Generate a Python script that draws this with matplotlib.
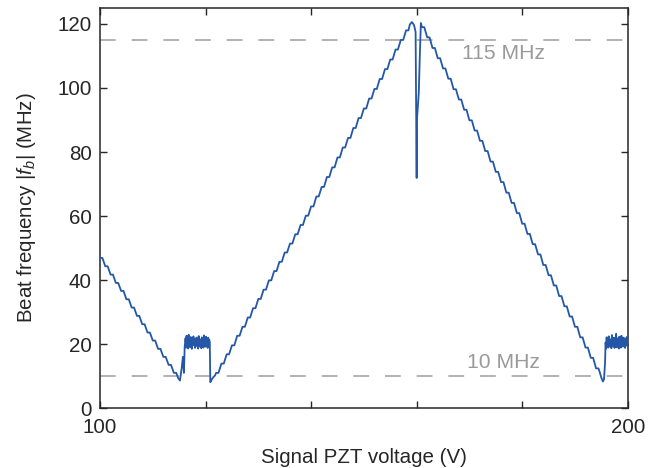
import numpy as np
import matplotlib.pyplot as plt

plt.rcParams['font.family'] = ['Liberation Sans', 'DejaVu Sans']
plt.rcParams['mathtext.fontset'] = 'custom'
plt.rcParams['mathtext.rm'] = 'Liberation Sans'
plt.rcParams['mathtext.it'] = 'Liberation Sans:italic'

# --- data (voltage in V, beat frequency in MHz) ---

# left falling ramp: step start voltages and levels
left_step_v = [100, 101, 102, 103, 104, 105, 106, 107, 108, 109, 110, 111, 112, 113, 114]
left_step_f = [46.9, 44.3, 41.7, 39.1, 36.6, 34.0, 31.4, 28.8, 26.2, 23.6, 21.1, 18.5, 16.0, 13.5, 11.0]

# first dip into the noisy plateau
dip1_v = [114.8, 115.15, 115.5, 115.7, 115.9, 116.05]
dip1_f = [9.4, 8.6, 12.8, 16.0, 11.0, 19.5]

plateau1_v = [116.1, 116.2, 116.3, 116.4, 116.5, 116.6, 116.7, 116.8, 116.9, 117.0,
              117.1, 117.2, 117.3, 117.4, 117.5, 117.6, 117.7, 117.8, 117.9, 118.0,
              118.1, 118.2, 118.3, 118.4, 118.5, 118.6, 118.7, 118.8, 118.9, 119.0,
              119.1, 119.2, 119.3, 119.4, 119.5, 119.6, 119.7, 119.8, 119.9, 120.0,
              120.1, 120.2, 120.3, 120.4, 120.5, 120.6, 120.7, 120.8]
plateau1_f = [19.5, 21.8, 18.9, 22.6, 19.8, 21.2, 18.6, 22.9, 20.1, 21.5,
              19.0, 22.2, 20.4, 18.5, 21.9, 19.6, 22.4, 20.0, 21.3, 18.8,
              21.7, 19.9, 22.0, 19.3, 21.1, 18.6, 22.5, 20.2, 21.6, 19.1,
              20.8, 18.7, 22.1, 19.7, 21.4, 18.9, 22.7, 20.3, 21.0, 19.2,
              22.3, 19.8, 21.5, 18.8, 22.0, 20.1, 21.4, 20.5]

drop1_v = [120.9, 121.2, 121.5, 121.8]
drop1_f = [8.1, 9.0, 9.7, 10.2]

# rising ramp
up_step_v = [122, 123, 124, 125, 126, 127, 128, 129, 130, 131, 132, 133, 134, 135,
             136, 137, 138, 139, 140, 141, 142, 143, 144, 145, 146, 147, 148, 149,
             150, 151, 152, 153, 154, 155, 156, 157, 158]
up_step_f = [11.0, 13.9, 16.8, 19.6, 22.6, 25.4, 28.3, 31.2, 34.1, 37.0, 39.9, 42.8,
             45.7, 48.6, 51.4, 54.3, 57.2, 60.1, 63.0, 66.1, 69.1, 72.2, 75.2, 78.3,
             81.4, 84.4, 87.5, 90.6, 93.6, 96.7, 99.7, 102.8, 105.9, 108.9, 112.0,
             115.0, 118.0]

# turning point with the sharp glitch
peak_v = [158.7, 159.1, 159.5, 159.8, 160.0, 160.05, 160.4, 160.6, 160.8]
peak_f = [119.8, 120.6, 119.7, 117.5, 71.9, 90.0, 98.4, 110.0, 120.3]

# falling ramp
down_step_v = [161, 162, 163, 164, 165, 166, 167, 168, 169, 170, 171, 172, 173, 174,
               175, 176, 177, 178, 179, 180, 181, 182, 183, 184, 185, 186, 187, 188,
               189, 190, 191, 192, 193, 194]
down_step_f = [119.0, 115.8, 112.5, 109.3, 106.1, 102.9, 99.6, 96.4, 93.2, 89.9, 86.7,
               83.5, 80.3, 77.0, 73.8, 70.6, 67.3, 64.1, 60.9, 57.6, 54.4, 51.2, 48.0,
               44.7, 41.5, 38.3, 35.0, 31.8, 28.6, 25.4, 22.1, 18.9, 15.7, 12.4]

dip2_v = [194.7, 195.0, 195.3, 195.5, 195.7]
dip2_f = [11.2, 9.5, 8.3, 9.0, 14.0]

plateau2_v = [195.8, 195.9, 196.0, 196.1, 196.2, 196.3, 196.4, 196.5, 196.6, 196.7,
              196.8, 196.9, 197.0, 197.1, 197.2, 197.3, 197.4, 197.5, 197.6, 197.7,
              197.8, 197.9, 198.0, 198.1, 198.2, 198.3, 198.4, 198.5, 198.6, 198.7,
              198.8, 198.9, 199.0, 199.1, 199.2, 199.3, 199.4, 199.5, 199.6, 199.7,
              199.8, 199.9, 200.0]
plateau2_f = [20.5, 18.6, 22.1, 19.4, 21.3, 18.9, 22.4, 20.0, 21.6, 19.1,
              21.0, 18.7, 22.8, 19.8, 21.2, 19.3, 22.0, 18.8, 21.5, 20.2,
              23.2, 19.0, 21.8, 19.5, 20.9, 18.6, 22.3, 19.9, 21.4, 18.9,
              22.6, 20.1, 21.1, 19.2, 22.0, 19.6, 21.7, 18.8, 21.3, 19.7,
              22.2, 19.4, 20.6]

ref_levels = [115, 10]
ref_labels = ['115 MHz', '10 MHz']


def stairs(step_v, step_f, flat=0.45):
    """Each step: a short flat part, then the line runs on to the next step."""
    v = np.array(step_v, dtype=float)
    f = np.array(step_f, dtype=float)
    vv = np.column_stack([v, v + flat]).ravel()
    ff = np.column_stack([f, f]).ravel()
    return vv, ff


parts_v, parts_f = [], []
a, b = stairs(left_step_v, left_step_f)
parts_v.append(a); parts_f.append(b)
parts_v += [dip1_v, plateau1_v, drop1_v]
parts_f += [dip1_f, plateau1_f, drop1_f]
a, b = stairs(up_step_v, up_step_f)
parts_v.append(a); parts_f.append(b)
parts_v.append(peak_v); parts_f.append(peak_f)
a, b = stairs(down_step_v, down_step_f)
parts_v.append(a); parts_f.append(b)
parts_v += [dip2_v, plateau2_v]
parts_f += [dip2_f, plateau2_f]

volt = np.concatenate([np.asarray(p, dtype=float) for p in parts_v])
freq = np.concatenate([np.asarray(p, dtype=float) for p in parts_f])

fig = plt.figure(figsize=(6.58, 4.68), dpi=100)
ax = fig.add_axes([0.152, 0.128, 0.802, 0.855])

grey = '#a6a6a6'
for lvl in ref_levels:
    ax.axhline(lvl, color=grey, lw=1.2, dashes=(9.5, 9.5), zorder=1)

ax.plot(volt, freq, color='#2457a8', lw=1.3, zorder=3)

fs = 14.8
ax.text(176.4, 110.9, ref_labels[0], color='#9a9a9a', fontsize=15.2,
        ha='center', va='center')
ax.text(176.4, 14.1, ref_labels[1], color='#9a9a9a', fontsize=15.2,
        ha='center', va='center')

ax.set_xlim(100, 200)
ax.set_ylim(0, 125)
ax.set_xticks(np.arange(100, 201, 20))
ax.set_xticklabels(['100', '', '', '', '', '200'])
ax.set_yticks(np.arange(0, 121, 20))
ax.tick_params(direction='in', top=True, right=True, length=5, width=1,
               labelsize=fs, color='#262626', labelcolor='#262626')
ax.tick_params(axis='x', pad=7)
ax.tick_params(axis='y', pad=6)
for s in ax.spines.values():
    s.set_color('#262626')
    s.set_linewidth(1.1)

ax.set_xlabel('Signal PZT voltage (V)', fontsize=fs, color='#262626', labelpad=8)
ax.set_ylabel(r'Beat frequency $|f_b|$ (MHz)', fontsize=fs, color='#262626', labelpad=14)

fig.savefig('out.png', dpi=100)
